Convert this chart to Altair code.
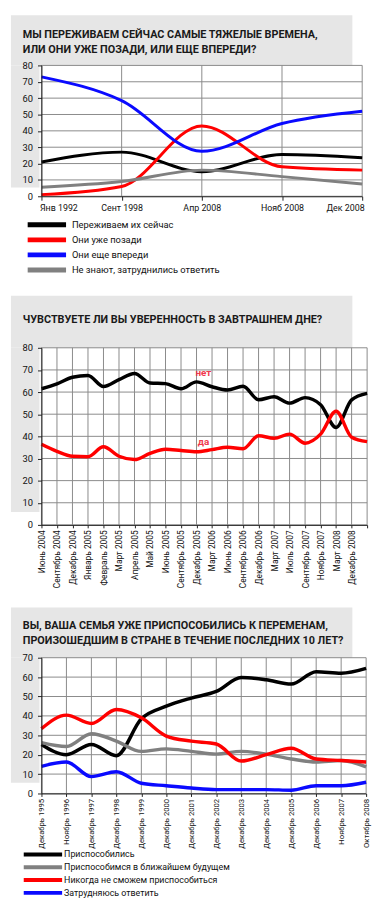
import altair as alt
import pandas as pd

FONT = "Roboto"
BG = "#e6e6e6"
GRID = "#8a8a8a"

# ---------------- Panel 1 ----------------
p1_title = "МЫ ПЕРЕЖИВАЕМ СЕЙЧАС САМЫЕ ТЯЖЕЛЫЕ ВРЕМЕНА,\nИЛИ ОНИ УЖЕ ПОЗАДИ, ИЛИ ЕЩЕ ВПЕРЕДИ?"
p1_dates = ["Янв 1992", "Сент 1998", "Апр 2008", "Нояб 2008", "Дек 2008"]
p1_series = ["Переживаем их сейчас", "Они уже позади", "Они еще впереди",
             "Не знают, затруднились ответить"]
p1_colors = ["#000000", "#ff0000", "#0a0aff", "#808080"]
p1_now = [21, 27, 15, 25.5, 23.5]
p1_behind = [1, 6, 43, 18, 16]
p1_ahead = [73, 58.5, 27.5, 44.5, 52]
p1_unknown = [5.5, 9, 16, 12, 7.5]
p1_yticks = [0, 10, 20, 30, 40, 50, 60, 70, 80]

# ---------------- Panel 2 ----------------
p2_title = "ЧУВСТВУЕТЕ ЛИ ВЫ УВЕРЕННОСТЬ В ЗАВТРАШНЕМ ДНЕ?"
p2_dates = ["Июнь 2004", "Сентябрь 2004", "Декабрь 2004", "Январь 2005", "Февраль 2005",
            "Март 2005", "Апрель 2005", "Май 2005", "Июнь 2005", "Сентябрь 2005",
            "Декабрь 2005", "Март 2006", "Июнь 2006", "Сентябрь 2006", "Декабрь 2006",
            "Март 2007", "Июль 2007", "Сентябрь 2007", "Ноябрь 2007", "Март 2008",
            "Декабрь 2008", " "]
p2_series = ["нет", "да"]
p2_colors = ["#000000", "#ff0000"]
p2_no = [61.5, 63.7, 66.7, 67.5, 62.5, 65.6, 68.4, 64.1, 63.8, 61.5,
         64.6, 62.4, 60.9, 62.6, 56.5, 57.9, 55.0, 57.5, 54.3, 44.0, 56.5, 59.4]
p2_yes = [36.4, 33.2, 31.0, 30.8, 35.3, 31.0, 29.5, 32.3, 34.2, 33.6,
          33.0, 34.0, 35.1, 34.4, 40.3, 39.1, 41.0, 36.9, 41.0, 51.3, 39.6, 37.6]
p2_label_dates = ["Декабрь 2005", "Декабрь 2005"]
p2_label_values = [68.6, 37.5]
p2_label_texts = ["нет", "да"]
p2_yticks = [0, 10, 20, 30, 40, 50, 60, 70, 80]

# ---------------- Panel 3 ----------------
p3_title = "ВЫ, ВАША СЕМЬЯ УЖЕ ПРИСПОСОБИЛИСЬ К ПЕРЕМЕНАМ,\nПРОИЗОШЕДШИМ В СТРАНЕ В ТЕЧЕНИЕ ПОСЛЕДНИХ 10 ЛЕТ?"
p3_dates = ["Декабрь 1995", "Ноябрь 1996", "Декабрь 1997", "Декабрь 1998", "Декабрь 1999",
            "Декабрь 2000", "Декабрь 2001", "Декабрь 2002", "Декабрь 2003", "Декабрь 2004",
            "Декабрь 2005", "Декабрь 2006", "Ноябрь 2007", "Октябрь 2008"]
p3_series = ["Приспособились", "Приспособимся в ближайшем будущем",
             "Никогда не сможем приспособиться", "Затрудняюсь ответить"]
p3_colors = ["#000000", "#808080", "#ff0000", "#0a0aff"]
p3_adapted = [25.3, 20, 25.3, 19.5, 38.5, 45, 49.2, 52.6, 59.8, 58.6, 56.4, 62.8, 62, 64.5]
p3_soon = [26.2, 24.2, 30.8, 27, 21.7, 23, 21.7, 20.3, 21.7, 20.3, 17.8, 16.2, 17, 13.7]
p3_never = [33.4, 40.4, 36.1, 43.3, 39, 29.6, 27, 25.5, 16.7, 20, 23.3, 17.8, 17, 16.2]
p3_hard = [14, 16.2, 8.7, 11.2, 5.3, 4, 2.8, 2, 2, 2, 1.7, 4, 4, 5.8]
p3_yticks = [0, 10, 20, 30, 40, 50, 60, 70]


def long_frame(dates, series, columns):
    rows = []
    for name, vals in zip(series, columns):
        for d, v in zip(dates, vals):
            rows.append({"date": d, "series": name, "value": v})
    return pd.DataFrame(rows)


def panel(title, title_y, dates, yticks, ymax, df, series, colors, width, height,
          bg_top, bg_left_bottom, stroke_width, rotate, legend, xlabel_size=8.5, extra=None):
    xscale = alt.Scale(type="point", domain=dates, padding=0)
    yscale = alt.Scale(domain=[0, ymax], nice=False, zero=True)
    one = pd.DataFrame({"a": [0]})

    if rotate:
        xaxis = alt.Axis(title=None, labelAngle=-90, labelFontSize=xlabel_size, labelFont=FONT,
                         labelColor="#111", tickSize=3, labelPadding=2, domainColor="#222",
                         tickColor="#222", zindex=1, grid=False, labelOverlap=False)
    else:
        xaxis = alt.Axis(title=None, labelAngle=0, labelFontSize=9, labelFont=FONT,
                         labelColor="#111", tickSize=4, labelPadding=3, domainColor="#222",
                         tickColor="#222", zindex=1, grid=False, labelFlush=True,
                         labelFlushOffset=2, labelOverlap=False)
    yaxis = alt.Axis(title=None, values=yticks, labelFontSize=9.5, labelFont=FONT,
                     labelColor="#111", tickSize=4, labelPadding=5, domainColor="#222",
                     tickColor="#222", zindex=1, grid=False)

    bg_top_rect = alt.Chart(one).mark_rect(color=BG).encode(
        x=alt.value(-31), x2=alt.value(316), y=alt.value(bg_top), y2=alt.value(0))
    bg_left_rect = alt.Chart(one).mark_rect(color=BG).encode(
        x=alt.value(-31), x2=alt.value(-2), y=alt.value(0), y2=alt.value(bg_left_bottom))

    hgrid = alt.Chart(pd.DataFrame({"value": yticks})).mark_rule(
        color=GRID, strokeWidth=1).encode(y=alt.Y("value:Q", scale=yscale, axis=yaxis))
    vgrid = alt.Chart(pd.DataFrame({"date": dates})).mark_rule(
        color=GRID, strokeWidth=1).encode(x=alt.X("date:N", scale=xscale, axis=xaxis, sort=None))

    color = alt.Color("series:N", scale=alt.Scale(domain=series, range=colors),
                      sort=series, legend=legend)
    lines = alt.Chart(df).mark_line(interpolate="monotone", strokeWidth=stroke_width).encode(
        x=alt.X("date:N", scale=xscale, axis=xaxis, sort=None),
        y=alt.Y("value:Q", scale=yscale, axis=yaxis),
        color=color,
        detail="series:N",
    )

    title_mark = alt.Chart(one).mark_text(
        align="left", baseline="alphabetic", font=FONT, fontSize=11, fontWeight="bold",
        color="#1a1a1a", lineBreak="\n", lineHeight=15.5,
    ).encode(x=alt.value(-19), y=alt.value(title_y), text=alt.value(title))

    layers = [bg_top_rect, bg_left_rect, hgrid, vgrid, lines]
    if extra is not None:
        layers.append(extra(xscale, yscale, xaxis, yaxis))
    layers.append(title_mark)
    return alt.layer(*layers).properties(width=width, height=height)


df1 = long_frame(p1_dates, p1_series, [p1_now, p1_behind, p1_ahead, p1_unknown])
legend1 = alt.Legend(title=None, orient="none", legendX=-16.5, legendY=156, direction="vertical",
                     symbolType="stroke", symbolSize=1521, symbolStrokeWidth=5, clipHeight=12,
                     rowPadding=3.3, labelOffset=3.5, padding=0, labelFont=FONT,
                     labelFontSize=9.5, labelColor="#111", labelLimit=300)
c1 = panel(p1_title, -28, p1_dates, p1_yticks, 80, df1, p1_series, p1_colors, 326, 133,
           -51, 124, 3, False, legend1)

df2 = long_frame(p2_dates, p2_series, [p2_no, p2_yes])


def p2_labels(xscale, yscale, xaxis, yaxis):
    lab = pd.DataFrame({"date": p2_label_dates, "value": p2_label_values, "txt": p2_label_texts})
    return alt.Chart(lab).mark_text(
        font=FONT, fontSize=10, fontWeight="bold", color="#f03a4e", dx=7, baseline="middle"
    ).encode(x=alt.X("date:N", scale=xscale, axis=xaxis, sort=None),
             y=alt.Y("value:Q", scale=yscale, axis=yaxis), text="txt:N")


c2 = panel(p2_title, -25, p2_dates, p2_yticks, 80, df2, p2_series, p2_colors, 331, 180,
           -53, 167, 3.5, True, None, xlabel_size=8.5, extra=p2_labels)

df3 = long_frame(p3_dates, p3_series, [p3_adapted, p3_soon, p3_never, p3_hard])
legend3 = alt.Legend(title=None, orient="none", legendX=-20, legendY=194.5, direction="vertical",
                     symbolType="stroke", symbolSize=1521, symbolStrokeWidth=4, clipHeight=11,
                     rowPadding=2, labelOffset=0, padding=0, labelFont=FONT,
                     labelFontSize=9, labelColor="#111", labelLimit=300)
c3 = panel(p3_title, -29, p3_dates, p3_yticks, 70, df3, p3_series, p3_colors, 330, 138,
           -51, 127, 3.5, True, legend3, xlabel_size=7.8)

chart = alt.vconcat(c1, c2, c3, spacing=20).resolve_scale(color="independent").configure(
    padding={"left": 3, "top": 0, "right": 0, "bottom": 0}, font=FONT
).configure_view(stroke=None)

chart.save("out.html", embed_options={"renderer": "svg", "actions": False})
